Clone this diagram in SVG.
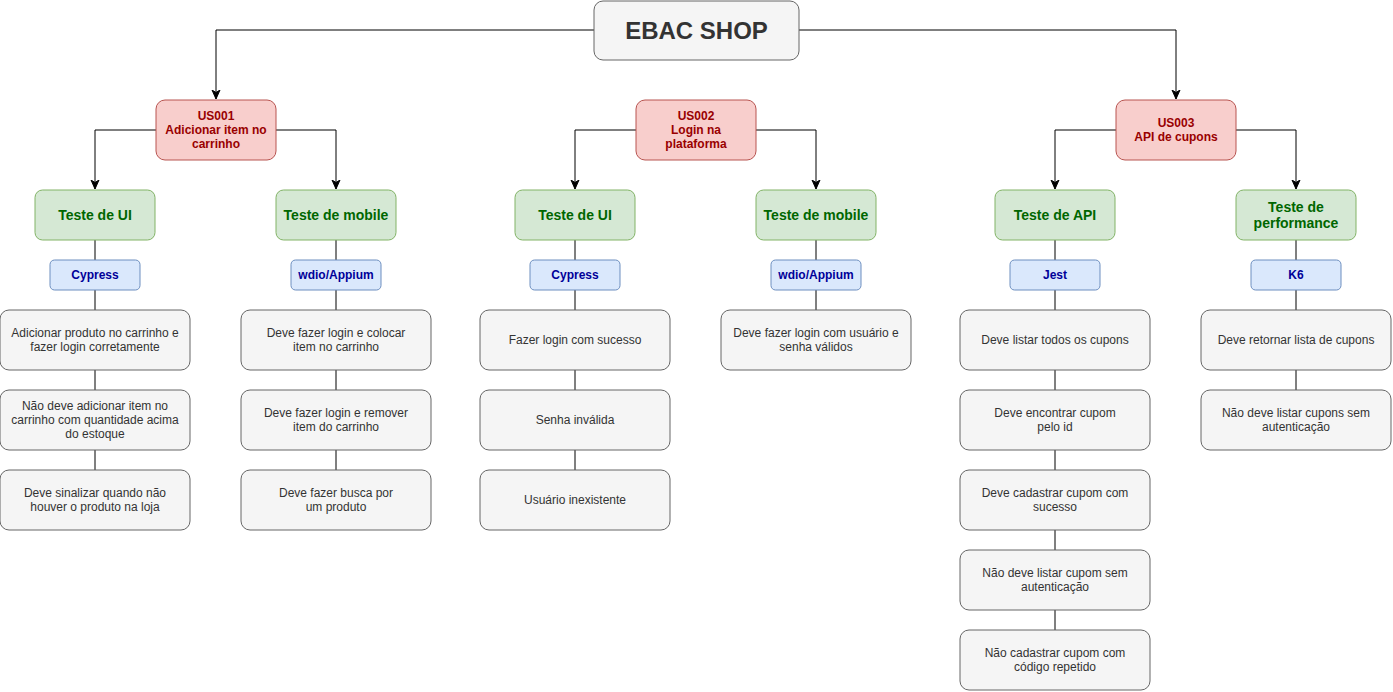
<svg xmlns="http://www.w3.org/2000/svg" width="1393" height="692" viewBox="0 0 1393 692">
<style>
  text{font-family:"Liberation Sans",Arial,Helvetica,sans-serif;text-anchor:middle;dominant-baseline:central}
  .gray rect{fill:#f5f5f5;stroke:#666666;stroke-width:1}
  .gray text{fill:#333333;font-size:12px}
  .root rect{fill:#f5f5f5;stroke:#666666;stroke-width:1}
  .root text{fill:#333333;font-size:24px;font-weight:bold}
  .red rect{fill:#f8cecc;stroke:#b85450;stroke-width:1}
  .red text{fill:#990000;font-size:12px;font-weight:bold}
  .green rect{fill:#d5e8d4;stroke:#82b366;stroke-width:1}
  .green text{fill:#006600;font-size:14px;font-weight:bold}
  .blue rect{fill:#dae8fc;stroke:#6c8ebf;stroke-width:1}
  .blue text{fill:#000099;font-size:12px;font-weight:bold}
  .edge{fill:none;stroke:#000000;stroke-width:1}
  .arrow{marker-end:url(#arr)}
</style>
<defs>
  <marker id="arr" markerUnits="userSpaceOnUse" markerWidth="10" markerHeight="10" refX="9" refY="5" orient="auto">
    <path d="M0,1 L9,5 L0,9 L2.5,5 Z" fill="#000000" stroke="#000000" stroke-width="1"/>
  </marker>
</defs>
<rect width="1393" height="692" fill="#ffffff"/>

<g id="connectors">
  <path class="edge arrow" d="M594,30 H216 V99"/>
  <path class="edge arrow" d="M799,30 H1176 V99"/>
  <path class="edge arrow" d="M156,130 H95 V189"/>
  <path class="edge arrow" d="M276,130 H336 V189"/>
  <path class="edge arrow" d="M636,130 H575 V189"/>
  <path class="edge arrow" d="M756,130 H816 V189"/>
  <path class="edge arrow" d="M1116,130 H1055 V189"/>
  <path class="edge arrow" d="M1236,130 H1296 V189"/>
  <!-- column 1 -->
  <path class="edge" d="M95,240 V260 M95,290 V310 M95,370 V390 M95,450 V470"/>
  <!-- column 2 -->
  <path class="edge" d="M336,240 V260 M336,290 V310 M336,370 V390 M336,450 V470"/>
  <!-- column 3 -->
  <path class="edge" d="M575,240 V260 M575,290 V310 M575,370 V390 M575,450 V470"/>
  <!-- column 4 -->
  <path class="edge" d="M816,240 V260 M816,290 V310"/>
  <!-- column 5 -->
  <path class="edge" d="M1055,240 V260 M1055,290 V310 M1055,370 V390 M1055,450 V470 M1055,530 V550 M1055,610 V630"/>
  <!-- column 6 -->
  <path class="edge" d="M1296,240 V260 M1296,290 V310 M1296,370 V390"/>
</g>

<g id="ebac-shop" class="root"><rect x="594" y="1" width="205" height="59" rx="9"/><text x="696.5" y="30">EBAC SHOP</text></g>

<g id="us001" class="red"><rect x="156" y="100" width="120" height="60" rx="9"/>
  <text x="216" y="115.6">US001</text><text x="216" y="130">Adicionar item no</text><text x="216" y="144.4">carrinho</text></g>
<g id="us002" class="red"><rect x="636" y="100" width="120" height="60" rx="9"/>
  <text x="696" y="115.6">US002</text><text x="696" y="130">Login na</text><text x="696" y="144.4">plataforma</text></g>
<g id="us003" class="red"><rect x="1116" y="100" width="120" height="60" rx="9"/>
  <text x="1176" y="122.8">US003</text><text x="1176" y="137.2">API de cupons</text></g>

<g id="teste-ui-1" class="green"><rect x="35" y="190" width="120" height="50" rx="7.5"/><text x="95" y="215">Teste de UI</text></g>
<g id="teste-mobile-1" class="green"><rect x="276" y="190" width="120" height="50" rx="7.5"/><text x="336" y="215">Teste de mobile</text></g>
<g id="teste-ui-2" class="green"><rect x="515" y="190" width="120" height="50" rx="7.5"/><text x="575" y="215">Teste de UI</text></g>
<g id="teste-mobile-2" class="green"><rect x="756" y="190" width="120" height="50" rx="7.5"/><text x="816" y="215">Teste de mobile</text></g>
<g id="teste-api" class="green"><rect x="995" y="190" width="120" height="50" rx="7.5"/><text x="1055" y="215">Teste de API</text></g>
<g id="teste-performance" class="green"><rect x="1236" y="190" width="120" height="50" rx="7.5"/><text x="1296" y="206.6">Teste de</text><text x="1296" y="223.4">performance</text></g>

<g id="cypress-1" class="blue"><rect x="50" y="260" width="90" height="30" rx="4.5"/><text x="95" y="275">Cypress</text></g>
<g id="wdio-1" class="blue"><rect x="291" y="260" width="90" height="30" rx="4.5"/><text x="336" y="275">wdio/Appium</text></g>
<g id="cypress-2" class="blue"><rect x="530" y="260" width="90" height="30" rx="4.5"/><text x="575" y="275">Cypress</text></g>
<g id="wdio-2" class="blue"><rect x="771" y="260" width="90" height="30" rx="4.5"/><text x="816" y="275">wdio/Appium</text></g>
<g id="jest" class="blue"><rect x="1010" y="260" width="90" height="30" rx="4.5"/><text x="1055" y="275">Jest</text></g>
<g id="k6" class="blue"><rect x="1251" y="260" width="90" height="30" rx="4.5"/><text x="1296" y="275">K6</text></g>

<g id="t1-1" class="gray"><rect x="0" y="310" width="190" height="60" rx="9"/><text x="95" y="332.8">Adicionar produto no carrinho e</text><text x="95" y="347.2">fazer login corretamente</text></g>
<g id="t1-2" class="gray"><rect x="0" y="390" width="190" height="60" rx="9"/><text x="95" y="405.6">Não deve adicionar item no</text><text x="95" y="420">carrinho com quantidade acima</text><text x="95" y="434.4">do estoque</text></g>
<g id="t1-3" class="gray"><rect x="0" y="470" width="190" height="60" rx="9"/><text x="95" y="492.8">Deve sinalizar quando não</text><text x="95" y="507.2">houver o produto na loja</text></g>

<g id="t2-1" class="gray"><rect x="241" y="310" width="190" height="60" rx="9"/><text x="336" y="332.8">Deve fazer login e colocar</text><text x="336" y="347.2">item no carrinho</text></g>
<g id="t2-2" class="gray"><rect x="241" y="390" width="190" height="60" rx="9"/><text x="336" y="412.8">Deve fazer login e remover</text><text x="336" y="427.2">item do carrinho</text></g>
<g id="t2-3" class="gray"><rect x="241" y="470" width="190" height="60" rx="9"/><text x="336" y="492.8">Deve fazer busca por</text><text x="336" y="507.2">um produto</text></g>

<g id="t3-1" class="gray"><rect x="480" y="310" width="190" height="60" rx="9"/><text x="575" y="340">Fazer login com sucesso</text></g>
<g id="t3-2" class="gray"><rect x="480" y="390" width="190" height="60" rx="9"/><text x="575" y="420">Senha inválida</text></g>
<g id="t3-3" class="gray"><rect x="480" y="470" width="190" height="60" rx="9"/><text x="575" y="500">Usuário inexistente</text></g>

<g id="t4-1" class="gray"><rect x="721" y="310" width="190" height="60" rx="9"/><text x="816" y="332.8">Deve fazer login com usuário e</text><text x="816" y="347.2">senha válidos</text></g>

<g id="t5-1" class="gray"><rect x="960" y="310" width="190" height="60" rx="9"/><text x="1055" y="340">Deve listar todos os cupons</text></g>
<g id="t5-2" class="gray"><rect x="960" y="390" width="190" height="60" rx="9"/><text x="1055" y="412.8">Deve encontrar cupom</text><text x="1055" y="427.2">pelo id</text></g>
<g id="t5-3" class="gray"><rect x="960" y="470" width="190" height="60" rx="9"/><text x="1055" y="492.8">Deve cadastrar cupom com</text><text x="1055" y="507.2">sucesso</text></g>
<g id="t5-4" class="gray"><rect x="960" y="550" width="190" height="60" rx="9"/><text x="1055" y="572.8">Não deve listar cupom sem</text><text x="1055" y="587.2">autenticação</text></g>
<g id="t5-5" class="gray"><rect x="960" y="630" width="190" height="60" rx="9"/><text x="1055" y="652.8">Não cadastrar cupom com</text><text x="1055" y="667.2">código repetido</text></g>

<g id="t6-1" class="gray"><rect x="1201" y="310" width="190" height="60" rx="9"/><text x="1296" y="340">Deve retornar lista de cupons</text></g>
<g id="t6-2" class="gray"><rect x="1201" y="390" width="190" height="60" rx="9"/><text x="1296" y="412.8">Não deve listar cupons sem</text><text x="1296" y="427.2">autenticação</text></g>
</svg>
